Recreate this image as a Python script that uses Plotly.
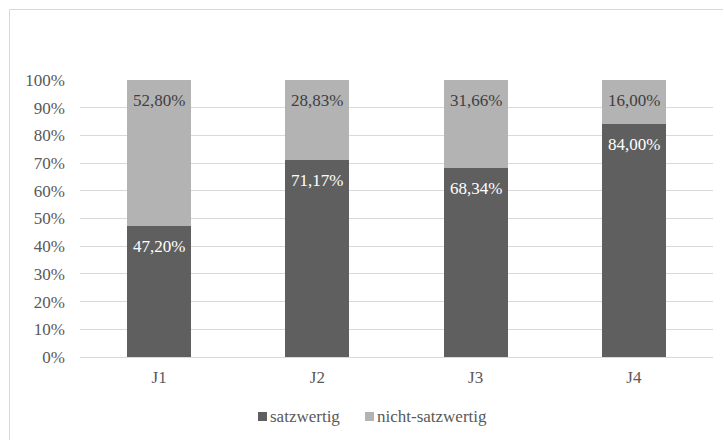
import plotly.graph_objects as go

# Anteile je Gruppe (Prozent)
categories = ["J1", "J2", "J3", "J4"]
satzwertig = [47.20, 71.17, 68.34, 84.00]
nicht_satzwertig = [52.80, 28.83, 31.66, 16.00]
series_names = ["satzwertig", "nicht-satzwertig"]

DARK = "#5f5f5f"
LIGHT = "#b3b3b3"
GRID = "#d9d9d9"
AXIS_TEXT = "#595959"
FONT = "Liberation Serif"

W, H = 724, 441
M_L, M_R, M_T, M_B = 80, 11, 80, 84
PW, PH = W - M_L - M_R, H - M_T - M_B


def px_x(x):
    return (x - M_L) / PW


def px_y(y):
    return (H - M_B - y) / PH


def fmt(v):
    return f"{v:.2f}".replace(".", ",") + "%"


fig = go.Figure()
fig.add_trace(go.Bar(x=categories, y=satzwertig, name=series_names[0],
                     marker=dict(color=DARK, line=dict(width=0)), width=0.405,
                     showlegend=False))
fig.add_trace(go.Bar(x=categories, y=nicht_satzwertig, name=series_names[1],
                     marker=dict(color=LIGHT, line=dict(width=0)), width=0.405,
                     showlegend=False))

annotations = []
for c, s, n in zip(categories, satzwertig, nicht_satzwertig):
    annotations.append(dict(x=c, y=s, text=fmt(s), showarrow=False, yanchor="top",
                            yshift=-9, font=dict(family=FONT, size=17, color="white")))
    annotations.append(dict(x=c, y=s + n, text=fmt(n), showarrow=False, yanchor="top",
                            yshift=-9, font=dict(family=FONT, size=17, color="#404040")))

# Legende
legend_items = [(series_names[0], DARK, 258), (series_names[1], LIGHT, 365)]
shapes = []
for name, color, x0 in legend_items:
    shapes.append(dict(type="rect", xref="paper", yref="paper",
                       x0=px_x(x0), x1=px_x(x0 + 9), y0=px_y(421), y1=px_y(412),
                       fillcolor=color, line=dict(width=0)))
    annotations.append(dict(xref="paper", yref="paper", x=px_x(x0 + 10), y=px_y(416.5),
                            xanchor="left", yanchor="middle", text=name, showarrow=False,
                            font=dict(family=FONT, size=17, color=AXIS_TEXT)))

# Rahmen um den Diagrammbereich (oben und links), innerhalb der Seite
shapes.append(dict(type="line", xref="paper", yref="paper",
                   x0=px_x(9.5), x1=px_x(W - 1), y0=px_y(9.5), y1=px_y(9.5),
                   line=dict(color=GRID, width=1), layer="below"))
shapes.append(dict(type="line", xref="paper", yref="paper",
                   x0=px_x(9.5), x1=px_x(9.5), y0=px_y(9.5), y1=px_y(H - 1),
                   line=dict(color=GRID, width=1), layer="below"))

fig.update_layout(
    barmode="stack",
    width=W, height=H,
    margin=dict(l=M_L, r=M_R, t=M_T, b=M_B),
    paper_bgcolor="white", plot_bgcolor="white",
    font=dict(family=FONT, size=17, color=AXIS_TEXT),
    annotations=annotations,
    shapes=shapes,
    showlegend=False,
)
fig.update_yaxes(range=[0, 100], dtick=10, ticksuffix="%", showgrid=True,
                 gridcolor=GRID, gridwidth=1, zeroline=True, zerolinecolor=GRID,
                 zerolinewidth=1, showline=False, ticks="", ticklabelstandoff=14,
                 tickfont=dict(family=FONT, size=17, color=AXIS_TEXT))
fig.update_xaxes(showline=False, ticks="", showgrid=False, ticklabelstandoff=8,
                 tickfont=dict(family=FONT, size=17, color=AXIS_TEXT))

fig.write_html("out.html")
